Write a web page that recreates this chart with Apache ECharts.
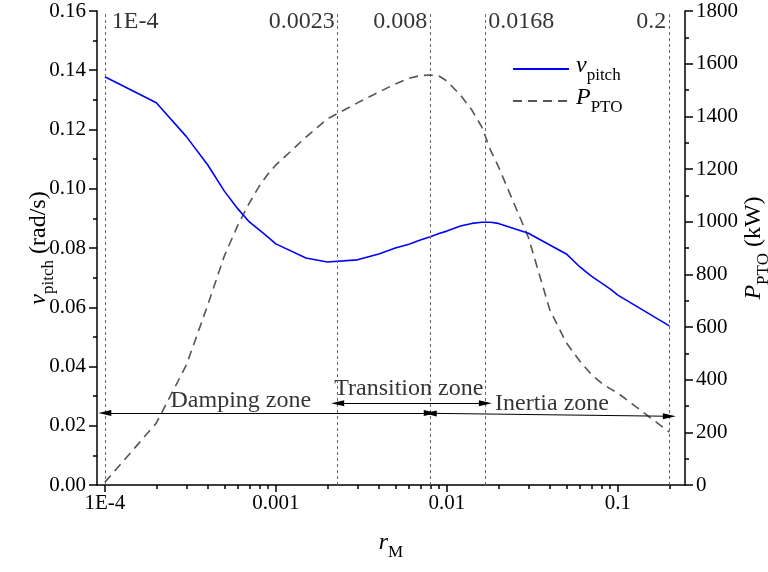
<!DOCTYPE html>
<html>
<head>
<meta charset="utf-8">
<script src="https://cdn.jsdelivr.net/npm/echarts@6/dist/echarts.min.js"></script>
<style>
  html, body { margin: 0; padding: 0; background: #fff; }
  #chart { width: 768px; height: 572px; }
</style>
</head>
<body>
<div id="chart"></div>
<script>
// Mass ratio r_M (log scale)
const rM = [1e-4, 2e-4, 3e-4, 4e-4, 5e-4, 6e-4, 7e-4, 8e-4, 9e-4, 1e-3, 1.5e-3, 2e-3, 3e-3, 4e-3, 5e-3,
  6e-3, 7e-3, 8e-3, 9e-3, 1e-2, 1.2e-2, 1.4e-2, 1.6e-2, 1.8e-2, 2e-2, 3e-2, 4e-2, 5e-2, 6e-2, 7e-2, 8e-2,
  9e-2, 0.1, 0.2];
// Pitch velocity amplitude (rad/s)
const vPitch = [0.1378, 0.1290, 0.1176, 0.1080, 0.0992, 0.0932, 0.0888, 0.0861, 0.0837, 0.0814, 0.0766,
  0.0753, 0.0760, 0.0780, 0.0800, 0.0813, 0.0827, 0.0838, 0.0849, 0.0857, 0.0874, 0.0883, 0.0887, 0.0887,
  0.0883, 0.0850, 0.0810, 0.0780, 0.0736, 0.0705, 0.0682, 0.0662, 0.0641, 0.0537];
// PTO power (kW)
const pPTO = [10, 235, 456, 684, 870, 987, 1071, 1135, 1181, 1215, 1321, 1390, 1451, 1492, 1523, 1544,
  1555, 1557, 1553, 1534, 1481, 1424, 1360, 1272, 1210, 940, 665, 540, 470, 420, 388, 366, 349, 201];

// Zone boundaries and zone names
const boundaries = [1e-4, 0.0023, 0.008, 0.0168, 0.2];
const zoneNames = ['Damping zone', 'Transition zone', 'Inertia zone'];

// Axis ticks
const xMajorTicks = [1e-4, 1e-3, 1e-2, 1e-1];
const xMinorTicks = [2e-4, 3e-4, 4e-4, 5e-4, 6e-4, 7e-4, 8e-4, 9e-4,
  2e-3, 3e-3, 4e-3, 5e-3, 6e-3, 7e-3, 8e-3, 9e-3,
  2e-2, 3e-2, 4e-2, 5e-2, 6e-2, 7e-2, 8e-2, 9e-2, 2e-1];

const FONT = 'Liberation Serif';
const X_MIN = 9e-5, X_MAX = 0.247;
const V_MAX = 0.16;

function fmtR(v) {
  return v < 1e-3 ? v.toExponential(0).toUpperCase() : String(v);
}

const rich = {
  i: { fontFamily: FONT, fontStyle: 'italic', fontSize: 24, color: '#000', padding: [0, 0, 6, 0] },
  s: { fontFamily: FONT, fontSize: 17, color: '#000', verticalAlign: 'bottom' },
  n: { fontFamily: FONT, fontSize: 24, color: '#000', padding: [0, 0, 6, 0] }
};

const arrowHead = 'path://M5,0 L10,20 L0,20 Z';
function arrowEnd(coord, withHead) {
  return withHead
    ? { coord: coord, symbol: arrowHead, symbolSize: [6, 13] }
    : { coord: coord, symbol: 'none' };
}

const chart = echarts.init(document.getElementById('chart'));
chart.setOption({
  animation: false,
  backgroundColor: '#fff',
  grid: { left: 97, right: 83, top: 11, bottom: 87, containLabel: false, outerBoundsMode: 'none' },
  legend: {
    orient: 'vertical',
    left: 507,
    top: 49,
    itemWidth: 56,
    itemHeight: 14,
    itemGap: 2,
    data: ['vpitch', 'PPTO'],
    itemStyle: { opacity: 0 },
    formatter: function (name) {
      return name === 'vpitch' ? '{i|v}{s|pitch}' : '{i|P}{s|PTO}';
    },
    textStyle: { fontFamily: FONT, rich: rich, padding: [0, 0, 0, 2] }
  },
  xAxis: [{
    type: 'log',
    logBase: 10,
    min: X_MIN,
    max: X_MAX,
    position: 'bottom',
    name: '{i|r}{s|M}',
    nameLocation: 'middle',
    nameGap: 46,
    nameMoveOverlap: false,
    nameTextStyle: { rich: rich },
    axisLine: { onZero: false, lineStyle: { color: '#000', width: 1.5 } },
    axisTick: { customValues: xMajorTicks, length: 7, lineStyle: { color: '#000', width: 1.5 } },
    axisLabel: {
      customValues: xMajorTicks,
      formatter: fmtR,
      fontFamily: FONT, fontSize: 21, color: '#000', margin: 8
    },
    splitLine: { show: false }
  }, {
    type: 'log',
    logBase: 10,
    min: X_MIN,
    max: X_MAX,
    position: 'bottom',
    axisLine: { show: false, onZero: false },
    axisTick: { customValues: xMinorTicks, length: 4, lineStyle: { color: '#000', width: 1.5 } },
    axisLabel: { show: false },
    splitLine: { show: false }
  }],
  yAxis: [{
    type: 'value',
    min: 0, max: V_MAX, interval: 0.02,
    position: 'left',
    name: '{i|v}{s|pitch}{n| (rad/s)}',
    nameLocation: 'middle',
    nameRotate: 90,
    nameGap: 40,
    nameMoveOverlap: false,
    nameTextStyle: { rich: rich },
    axisLine: { show: true, lineStyle: { color: '#000', width: 1.5 } },
    axisTick: { length: 8, lineStyle: { color: '#000', width: 1.5 } },
    minorTick: { show: true, splitNumber: 2, length: 4, lineStyle: { color: '#000', width: 1.5 } },
    axisLabel: {
      formatter: function (v) { return v.toFixed(2); },
      fontFamily: FONT, fontSize: 21, color: '#000', margin: 11
    },
    splitLine: { show: false }
  }, {
    type: 'value',
    min: 0, max: 1800, interval: 200,
    position: 'right',
    name: '{i|P}{s|PTO}{n| (kW)}',
    nameLocation: 'middle',
    nameRotate: 90,
    nameGap: 57,
    nameMoveOverlap: false,
    nameTextStyle: { rich: rich },
    axisLine: { show: true, lineStyle: { color: '#000', width: 1.5 } },
    axisTick: { length: 8, lineStyle: { color: '#000', width: 1.5 } },
    minorTick: { show: true, splitNumber: 2, length: 4, lineStyle: { color: '#000', width: 1.5 } },
    axisLabel: {
      formatter: function (v) { return String(v); },
      fontFamily: FONT, fontSize: 21, color: '#000', margin: 11
    },
    splitLine: { show: false }
  }],
  series: [{
    name: 'vpitch',
    type: 'line',
    xAxisIndex: 0,
    yAxisIndex: 0,
    data: rM.map((x, i) => [x, vPitch[i]]),
    symbol: 'none',
    lineStyle: { color: '#0000ff', width: 1.6 },
    itemStyle: { color: '#0000ff' },
    z: 4,
    // Dashed marker lines at the zone boundaries
    markLine: {
      silent: true,
      symbol: 'none',
      label: { show: false },
      lineStyle: { color: '#666', type: [3, 3], width: 1 },
      data: boundaries.map(b => [{ coord: [b, 0] }, { coord: [b, V_MAX] }])
    }
  }, {
    name: 'PPTO',
    type: 'line',
    xAxisIndex: 0,
    yAxisIndex: 1,
    data: rM.map((x, i) => [x, pPTO[i]]),
    symbol: 'none',
    lineStyle: { color: '#555', width: 1.6, type: [9, 6] },
    itemStyle: { color: '#555' },
    z: 3
  }, {
    // Boundary values written at the top of each dashed marker line
    name: 'boundaryLabels',
    type: 'scatter',
    xAxisIndex: 0,
    yAxisIndex: 0,
    symbolSize: 0,
    silent: true,
    data: boundaries.map((b, i) => ({
      value: [b, 0.1563],
      label: {
        position: (i === 0 || i === 3) ? 'right' : 'left',
        distance: i === 0 ? 7 : 3
      }
    })),
    label: {
      show: true,
      formatter: function (p) { return fmtR(p.value[0]); },
      fontFamily: FONT, fontSize: 24, color: '#000'
    },
    // Zone extent arrows
    markLine: {
      silent: true,
      label: { show: false },
      lineStyle: { color: '#000', type: 'solid', width: 1 },
      itemStyle: { color: '#000' },
      data: [
        [arrowEnd([boundaries[0], 0.0243], true), arrowEnd([boundaries[2], 0.0243], true)],
        [arrowEnd([boundaries[1], 0.0276], true), arrowEnd([boundaries[3], 0.0276], true)],
        [arrowEnd([boundaries[2], 0.0242], true), arrowEnd([boundaries[4], 0.0232], true)]
      ]
    }
  }, {
    // Zone names
    name: 'zoneNames',
    type: 'scatter',
    xAxisIndex: 0,
    yAxisIndex: 0,
    symbolSize: 0,
    silent: true,
    data: [
      { value: [6.24e-4, 0.0284], name: zoneNames[0] },
      { value: [5.99e-3, 0.0324], name: zoneNames[1] },
      { value: [4.12e-2, 0.0273], name: zoneNames[2] }
    ],
    label: {
      show: true,
      position: 'inside',
      formatter: '{b}',
      fontFamily: FONT, fontSize: 24, color: '#000'
    }
  }]
});
</script>
</body>
</html>
